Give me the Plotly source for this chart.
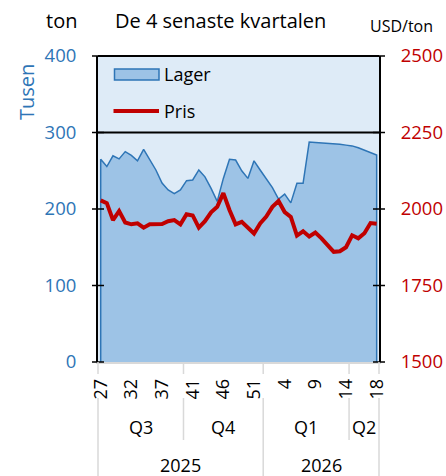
import plotly.graph_objects as go

# ---------------- data ----------------
weeks = list(range(27, 41)) + list(range(40, 53)) + list(range(1, 15)) + list(range(14, 19))
quarters = ["Q3"] * 14 + ["Q4"] * 13 + ["Q1"] * 14 + ["Q2"] * 5
years = ["2025"] * 27 + ["2026"] * 19

lager = [265, 255.5, 269.5, 265.5, 275, 270, 263, 278, 265, 251,
         234, 225, 220, 225, 237, 238, 251, 242, 227, 210,
         240, 265, 264, 250, 240, 263, 251, 240, 228, 213,
         219.5, 208, 233.5, 233.5, 287.5, 287, 286.5, 286, 285.5, 284.5,
         283.5, 282.5, 280, 277, 274, 270.5]

pris = [2028, 2019, 1964, 1993, 1956, 1950, 1953, 1939, 1950, 1950,
        1951, 1960, 1964, 1950, 1983, 1979, 1939, 1960, 1989, 2007,
        2052, 1997, 1950, 1958, 1939, 1920, 1953, 1975, 2007, 2026,
        1990, 1974, 1913, 1927, 1910, 1923, 1904, 1883, 1860, 1862,
        1875, 1914, 1904, 1921, 1954, 1952]

left_ticks = [0, 100, 200, 300, 400]
right_ticks = [1500, 1750, 2000, 2250, 2500]
label_every = 5

# ---------------- style / geometry ----------------
FONT = "Open Sans"
BLUE = "#2E75B6"
FILL = "#9DC3E6"
BG = "#DEEBF7"
RED = "#C00000"
GRAY = "#D9D9D9"

W, H = 446, 476
ML, MR, MT, MB = 98, 67, 56, 114
PW, PH = W - ML - MR, H - MT - MB
XR = [-0.44, 45.38]
YR = [0, 400]


def fx(px):  # pixel x -> paper
    return (px - ML) / PW


def fy(py):  # pixel y -> paper
    return (H - MB - py) / PH


def ix(i):  # category index -> paper x
    return (i - XR[0]) / (XR[1] - XR[0])


n = len(weeks)
idx = list(range(n))

fig = go.Figure()

# area (closed polygon so the outline runs down both ends, like the original)
fig.add_trace(go.Scatter(
    x=[idx[0]] + idx + [idx[-1]], y=[0] + lager + [0],
    mode="lines", fill="toself", fillcolor=FILL,
    line=dict(color=BLUE, width=1.5), showlegend=False, hoverinfo="skip"))

fig.add_trace(go.Scatter(
    x=idx, y=pris, yaxis="y2", mode="lines",
    line=dict(color=RED, width=4), showlegend=False))

tickvals = [i for i in idx if i % label_every == 0]
ticktext = [str(weeks[i]) for i in tickvals]

fig.update_layout(
    width=W, height=H,
    margin=dict(l=ML, r=MR, t=MT, b=MB, pad=0, autoexpand=False),
    paper_bgcolor="white", plot_bgcolor=BG,
    font=dict(family=FONT, size=18, color="black"),
    xaxis=dict(range=XR, tickmode="array", tickvals=tickvals, ticktext=ticktext,
               tickangle=-90, ticks="", ticklabelstandoff=8, showgrid=False,
               zeroline=False, showline=True, linecolor=GRAY, linewidth=1.5,
               automargin=False, tickfont=dict(size=18, color="black")),
    yaxis=dict(range=YR, tickvals=left_ticks, ticks="", showgrid=False,
               zeroline=False, showline=True, linecolor="black", linewidth=2,
               automargin=False, ticklabelstandoff=16,
               tickfont=dict(size=18.5, color=BLUE)),
    yaxis2=dict(range=[right_ticks[0], right_ticks[-1]], tickvals=right_ticks,
                overlaying="y", side="right", ticks="", showgrid=False,
                zeroline=False, showline=True, linecolor="black", linewidth=2,
                automargin=False, ticklabelstandoff=16,
                tickfont=dict(size=18.5, color=RED)),
)

shapes = []
d = 6 / PW
# crossing tick marks on both value axes
for v in left_ticks:
    yy = (v - YR[0]) / (YR[1] - YR[0])
    shapes.append(dict(type="line", xref="paper", yref="paper", x0=-d, x1=d, y0=yy, y1=yy,
                       line=dict(color="black", width=1.5)))
    shapes.append(dict(type="line", xref="paper", yref="paper", x0=1 - d, x1=1 + d, y0=yy, y1=yy,
                       line=dict(color="black", width=1.5)))
# full-width lines at 300 and at the top
for v in [300, 400]:
    yy = (v - YR[0]) / (YR[1] - YR[0])
    shapes.append(dict(type="line", xref="paper", yref="paper", x0=0, x1=1, y0=yy, y1=yy,
                       line=dict(color="black", width=1.8)))

# category group separators
lab_top, lab_bot = fy(374), fy(398)
q_bot, y_bot = fy(440), fy(476)
bounds_q = [i + 0.5 for i in range(n - 1) if quarters[i] != quarters[i + 1]]
bounds_y = [i + 0.5 for i in range(n - 1) if years[i] != years[i + 1]]
edges = [0, 1]
for b in bounds_q:
    xb = ix(b)
    bottom = y_bot if b in bounds_y else q_bot
    shapes.append(dict(type="line", xref="paper", yref="paper", x0=xb, x1=xb, y0=0, y1=lab_top,
                       line=dict(color=GRAY, width=1.5)))
    shapes.append(dict(type="line", xref="paper", yref="paper", x0=xb, x1=xb, y0=lab_bot, y1=bottom,
                       line=dict(color=GRAY, width=1.5)))
for xb in edges:
    shapes.append(dict(type="line", xref="paper", yref="paper", x0=xb, x1=xb, y0=0, y1=lab_top,
                       line=dict(color=GRAY, width=1.5)))
    shapes.append(dict(type="line", xref="paper", yref="paper", x0=xb, x1=xb, y0=lab_bot, y1=y_bot,
                       line=dict(color=GRAY, width=1.5)))

# legend symbols
shapes.append(dict(type="rect", xref="paper", yref="paper", x0=fx(114.5), x1=fx(159), y0=fy(80),
                   y1=fy(69), fillcolor=FILL, line=dict(color=BLUE, width=1.5)))
shapes.append(dict(type="line", xref="paper", yref="paper", x0=fx(113.5), x1=fx(159), y0=fy(111),
                   y1=fy(111), line=dict(color=RED, width=4)))

fig.update_layout(shapes=shapes)

ann = []


def txt(text, px, py, size=18, color="black", xanchor="center", angle=0):
    ann.append(dict(text=text, x=fx(px), y=fy(py), xref="paper", yref="paper",
                    xanchor=xanchor, yanchor="middle", showarrow=False, textangle=angle,
                    font=dict(family=FONT, size=size, color=color)))


txt("ton", 61, 21, size=20)
txt("De 4 senaste kvartalen", 220.5, 21, size=20)
txt("USD/ton", 401, 26, size=16)
txt("Tusen", 26, 92, size=20, color=BLUE, angle=-90)
txt("Lager", 162, 74, size=18, xanchor="left")
txt("Pris", 162, 111, size=18, xanchor="left")


# quarter and year labels, centred on their groups
def groups(labels):
    out = []
    start = 0
    for i in range(1, n + 1):
        if i == n or labels[i] != labels[start]:
            out.append((labels[start], start, i - 1))
            start = i
    return out


for lab, a, b in groups(quarters):
    left = 0 if a == 0 else ix(a - 0.5)
    right = 1 if b == n - 1 else ix(b + 0.5)
    ann.append(dict(text=lab, x=(left + right) / 2, y=fy(426.5), xref="paper", yref="paper",
                    xanchor="center", yanchor="middle", showarrow=False,
                    font=dict(family=FONT, size=18, color="black")))
for lab, a, b in groups(years):
    left = 0 if a == 0 else ix(a - 0.5)
    right = 1 if b == n - 1 else ix(b + 0.5)
    ann.append(dict(text=lab, x=(left + right) / 2, y=fy(464.5), xref="paper", yref="paper",
                    xanchor="center", yanchor="middle", showarrow=False,
                    font=dict(family=FONT, size=18, color="black")))

fig.update_layout(annotations=ann)
fig.write_html("out.html", config={"displayModeBar": False},
               post_script="document.body.style.margin='0';document.body.style.padding='0';")
